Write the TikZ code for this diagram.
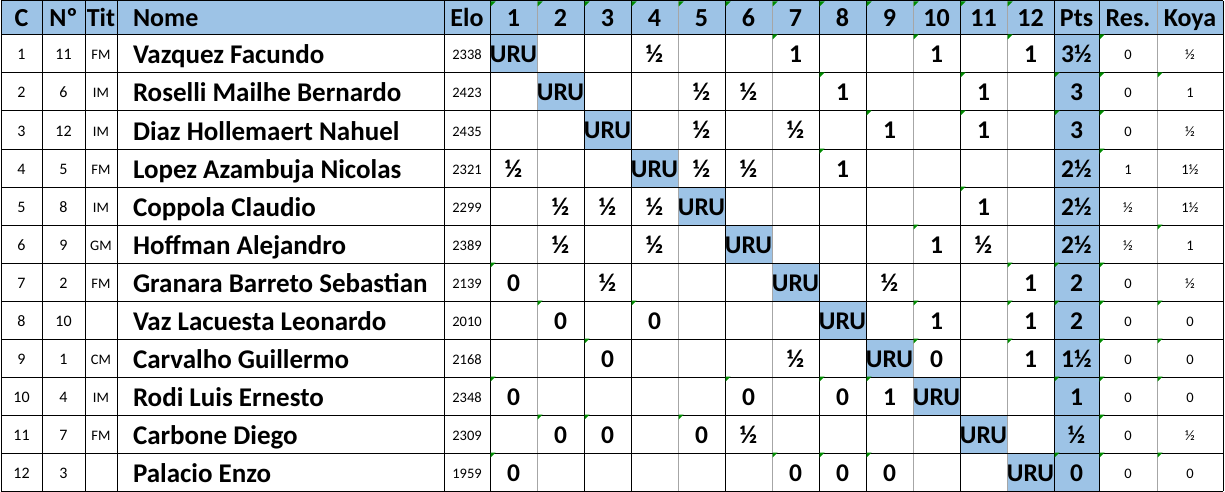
\documentclass[tikz,border=0pt]{standalone}
\usepackage{fontspec}
\setmainfont{Carlito}
\usetikzlibrary{positioning}
\definecolor{hdrblue}{RGB}{157,195,230}
\definecolor{flaggreen}{RGB}{0,140,0}
\definecolor{gridgrey}{RGB}{166,166,166}

\begin{document}
\begin{tikzpicture}[x=1pt, y=-1pt,
  every node/.style={inner sep=0pt, outer sep=0pt},
  cell/.style={minimum height=38pt},
  hd/.style={font=\fontsize{26}{26}\selectfont\bfseries, text height=18pt, text depth=0pt},
  big/.style={font=\fontsize{25.5}{26}\selectfont\bfseries, text height=18pt, text depth=0pt},
  sm/.style={font=\fontsize{16}{16}\selectfont, text height=12pt, text depth=0pt},
  xs/.style={font=\fontsize{14.5}{15}\selectfont, text height=12pt, text depth=0pt},
  nm/.style={font=\fontsize{27}{27}\selectfont\bfseries, text height=20pt, text depth=0pt, anchor=west},
  flag/.style={fill=flaggreen}]
  \useasboundingbox (0,0) rectangle (1225,492);
  \fill[white] (0,0) rectangle (1225,492);

  \fill[hdrblue] (1,1) rectangle (1223,35);
  \node[hd] (hC) at (21.5,18) {C};
  \node[hd] (hNo) at (63.5,18) {Nº};
  \node[hd] (hTit) at (101,18) {Tit};
  \node[hd, anchor=west] (hNome) at (133,18) {Nome};
  \node[hd] (hElo) at (467,18) {Elo};
  \foreach \k in {1,...,12}
    \node[hd, cell, minimum height=34pt, minimum width=47pt] (h\k) at (466.5+47*\k,18) {\k};
  \node[hd] (hPts) at (1076.5,18) {Pts};
  \node[hd] (hRes) at (1128,18) {Res.};
  \node[hd] (hKoya) at (1190,18) {Koya};

  \foreach \no/\tit/\nome/\elo/\pts/\rs/\ky [count=\r] in {
    11/FM/Vazquez Facundo/2338/3½/0/½,
    6/IM/Roselli Mailhe Bernardo/2423/3/0/1,
    12/IM/Diaz Hollemaert Nahuel/2435/3/0/½,
    5/FM/Lopez Azambuja Nicolas/2321/2½/1/1½,
    8/IM/Coppola Claudio/2299/2½/½/1½,
    9/GM/Hoffman Alejandro/2389/2½/½/1,
    2/FM/Granara Barreto Sebastian/2139/2/0/½,
    10//Vaz Lacuesta Leonardo/2010/2/0/0,
    1/CM/Carvalho Guillermo/2168/1½/0/0,
    4/IM/Rodi Luis Ernesto/2348/1/0/0,
    7/FM/Carbone Diego/2309/½/0/½,
    3//Palacio Enzo/1959/0/0/0}{
    \node[sm] (c\r) at (21.5,16+38*\r) {\r};
    \node[sm] (no\r) at (63.5,16+38*\r) {\no};
    \node[xs] (tit\r) at (101,16+38*\r) {\tit};
    \node[nm] (nome\r) at (133,16+38*\r) {\nome};
    \node[xs] (elo\r) at (467,16+38*\r) {\elo};
    \node[cell, big, minimum width=45pt, fill=hdrblue] (pts\r) at (1076.5,16+38*\r) {\pts};
    \node[cell, xs, minimum width=58pt] (res\r) at (1128,16+38*\r) {\rs};
    \node[cell, xs, minimum width=66pt] (koya\r) at (1190,16+38*\r) {\ky};
  }

  \foreach \row [count=\r] in {
    {URU,,,½,,,1,,,1,,1},
    {,URU,,,½,½,,1,,,1,},
    {,,URU,,½,,½,,1,,1,},
    {½,,,URU,½,½,,1,,,,},
    {,½,½,½,URU,,,,,,1,},
    {,½,,½,,URU,,,,1,½,},
    {0,,½,,,,URU,,½,,,1},
    {,0,,0,,,,URU,,1,,1},
    {,,0,,,,½,,URU,0,,1},
    {0,,,,,0,,0,1,URU,,},
    {,0,0,,0,½,,,,,URU,},
    {0,,,,,,0,0,0,,,URU}}{
    \foreach \v [count=\k] in \row {
      \ifnum\k=\r \def\bg{hdrblue}\else\def\bg{white}\fi
      \node[cell, big, minimum width=47pt, fill=\bg] (r\r-\k) at (466.5+47*\k,16+38*\r) {\v};
    }
  }

  \foreach \x in {537,678,772,913,1007,1157}
    \draw[gridgrey, line width=1pt] (\x,1) -- (\x,491);
  \foreach \y in {1,35,73,...,491}
    \draw[line width=1pt] (1,\y) -- (1223,\y);
  \foreach \x in {1,42,85,117,444,490,584,631,725,819,866,960,1054,1099,1223}
    \draw[line width=1pt] (\x,1) -- (\x,491);

  \foreach \k in {1,...,12}
    \fill[flag] ([shift={(0.5,0.5)}]h\k.north west) -- ++(5,0) -- ++(-5,5) -- cycle;
  \foreach \n in {r1-7, r1-10, r1-12, res1,
      r2-8, r2-11, pts2, res2, koya2,
      r3-9, r3-11, pts3, res3,
      r4-8, res4, r5-11, r6-10, koya6,
      r7-1, r7-12, pts7, res7,
      r8-2, r8-4, r8-10, r8-12, pts8, res8, koya8,
      r9-3, r9-10, r9-12, res9, koya9,
      r10-1, r10-6, r10-8, r10-9, pts10, res10, koya10,
      r11-2, r11-3, r11-5, res11,
      r12-1, r12-7, r12-8, r12-9, pts12, res12, koya12}
    \fill[flag] ([shift={(0.5,-0.5)}]\n.north west) -- ++(5,0) -- ++(-5,5) -- cycle;
\end{tikzpicture}
\end{document}
